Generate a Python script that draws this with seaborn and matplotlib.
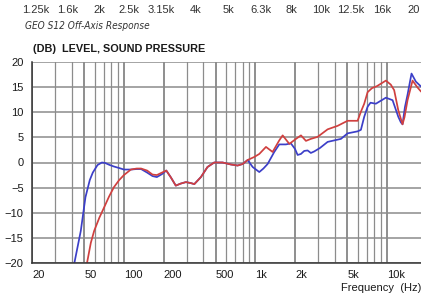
import pandas as pd
import matplotlib.pyplot as plt
from matplotlib.ticker import FixedLocator, LogLocator, NullFormatter
import seaborn as sns

sns.set_theme(style="white")
plt.rcParams["font.family"] = ["Liberation Sans", "DejaVu Sans"]

COR_AZUL = "#3c3fc8"
COR_VERM = "#d0403f"
COR_GRADE = "#8c8c8c"

# curva azul (resposta no eixo)
FREQ_AZUL = [40, 42, 47, 51, 55, 58, 63, 68, 72, 78, 84, 92, 100, 113, 125, 135,
             150, 165, 178, 195, 210, 228, 248, 270, 296, 323, 343, 385, 432, 486,
             563, 652, 732, 800, 873, 953, 1070, 1150, 1238, 1391, 1518, 1706, 1862,
             2000, 2094, 2218, 2350, 2494, 2640, 2800, 3100, 3540, 4470, 5020, 5985,
             6340, 6720, 7130, 7500, 8240, 9820, 11040, 12200, 12760, 13140, 13700,
             14350, 15380, 16590, 18200]
DB_AZUL = [-23, -20, -13.6, -6.9, -3.5, -2.0, -0.5, 0.0, -0.1, -0.5, -0.8, -1.1, -1.4,
           -1.4, -1.3, -1.3, -2.0, -2.7, -2.9, -2.3, -1.6, -3.0, -4.6, -4.2, -3.9, -4.1,
           -4.3, -2.9, -0.9, 0.0, 0.0, -0.4, -0.6, -0.3, 0.5, -0.9, -1.9, -1.2, -0.3,
           2.1, 3.6, 3.6, 3.8, 2.7, 1.5, 1.7, 2.3, 2.4, 1.9, 2.2, 2.9, 4.1, 4.7, 5.8,
           6.2, 6.5, 9.1, 11.1, 11.9, 11.7, 12.9, 12.4, 9.1, 8.0, 7.6, 11.0, 13.5,
           17.7, 16.1, 15.1]

# curva vermelha (fora do eixo)
FREQ_VERM = [50, 52.4, 56, 59.4, 65, 70.8, 77, 84, 92, 100, 113, 125, 135, 150, 165,
             178, 195, 210, 228, 248, 270, 296, 323, 343, 385, 432, 486, 563, 652, 732,
             800, 873, 980, 1070, 1203, 1351, 1518, 1611, 1811, 2034, 2220, 2422, 2640,
             2970, 3540, 4220, 5020, 5985, 6340, 6720, 7130, 7700, 8400, 9820, 10700,
             11350, 12200, 13140, 13600, 14350, 15660, 17000, 18200]
DB_VERM = [-23, -20, -16, -13.6, -11, -8.9, -6.8, -4.9, -3.5, -2.5, -1.4, -1.2, -1.2,
           -1.6, -2.4, -2.5, -2.0, -1.6, -3.0, -4.6, -4.2, -3.9, -4.1, -4.3, -2.9, -0.9,
           0.0, 0.0, -0.4, -0.6, -0.3, 0.5, 1.1, 1.7, 3.1, 2.1, 4.4, 5.4, 3.7, 4.7, 5.4,
           4.3, 4.7, 5.1, 6.6, 7.3, 8.3, 8.3, 10.1, 11.7, 14.0, 14.8, 15.2, 16.3, 15.5,
           14.4, 10.4, 7.6, 9.0, 12.4, 16.3, 15.0, 14.1]

X_TICKS = [20, 50, 100, 200, 500, 1000, 2000, 5000, 10000]
X_LABELS = ["20", "50", "100", "200", "500", "1k", "2k", "5k", "10k"]
Y_TICKS = [-20, -15, -10, -5, 0, 5, 10, 15, 20]

# linha de bandas da tabela anterior (cortada no topo)
BANDAS = ["1.25k", "1.6k", "2k", "2.5k", "3.15k", "4k", "5k", "6.3k", "8k",
          "10k", "12.5k", "16k", "20"]
BANDAS_X = [22, 57, 93, 118, 148, 190, 223, 250, 285, 312, 337, 373, 407]

df = pd.concat([
    pd.DataFrame({"freq": FREQ_AZUL, "db": DB_AZUL, "curva": "azul"}),
    pd.DataFrame({"freq": FREQ_VERM, "db": DB_VERM, "curva": "vermelha"}),
])

W, H = 421, 293
fig = plt.figure(figsize=(W / 100, H / 100), dpi=100)
ax = fig.add_axes([32 / W, 30 / H, 389 / W, 201 / H])

sns.lineplot(data=df, x="freq", y="db", hue="curva",
             palette={"azul": COR_AZUL, "vermelha": COR_VERM},
             linewidth=1.25, legend=False, ax=ax, sort=True)

ax.set_xscale("log")
ax.set_xlim(20, 18160)
ax.set_ylim(-20, 20)

ax.xaxis.set_major_locator(FixedLocator(X_TICKS))
ax.set_xticklabels(X_LABELS)
ax.xaxis.set_minor_locator(LogLocator(base=10, subs=range(2, 10)))
ax.xaxis.set_minor_formatter(NullFormatter())
ax.set_yticks(Y_TICKS)

for lab in ax.get_xticklabels():
    lab.set_horizontalalignment("left")

ax.tick_params(axis="x", which="both", length=0, pad=5, labelsize=8, colors="#1a1a1a")
ax.tick_params(axis="y", length=0, pad=6, labelsize=8, colors="#1a1a1a")

ax.grid(True, which="major", axis="y", color=COR_GRADE, linewidth=1.1)
ax.grid(True, which="minor", axis="x", color=COR_GRADE, linewidth=0.9)
ax.grid(True, which="major", axis="x", color="#707070", linewidth=1.1)
ax.set_axisbelow(True)

for lado in ["top", "right"]:
    ax.spines[lado].set_visible(False)
for lado in ["left", "bottom"]:
    ax.spines[lado].set_color("#333")
    ax.spines[lado].set_linewidth(1.1)

ax.set_xlabel("")
ax.set_ylabel("")

fig.text(421 / W, 1 - 288 / H, "Frequency  (Hz)", ha="right", va="center",
         fontsize=8, color="#1a1a1a")
fig.text(33 / W, 1 - 49 / H, "(DB)  LEVEL, SOUND PRESSURE", ha="left", va="center",
         fontsize=7.8, weight="bold", color="#1a1a1a")
fig.text(25 / W, 1 - 26 / H, "GEO S12 Off-Axis Response", ha="left", va="center",
         fontsize=7.2, style="italic", color="#333", fontstretch="condensed",
         family=["DejaVu Sans"])
for rot, xp in zip(BANDAS, BANDAS_X):
    fig.text(xp / W, 1 - 10 / H, rot, ha="left", va="center", fontsize=8, color="#333")

fig.savefig("out.png", dpi=100, facecolor="white")
